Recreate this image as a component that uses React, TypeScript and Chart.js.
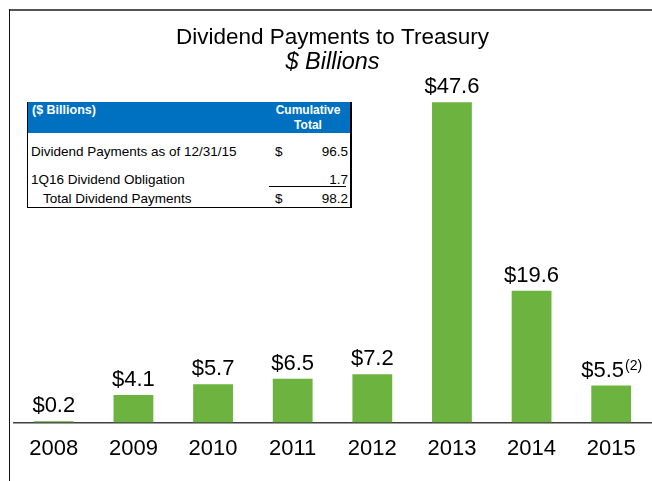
import React, { useEffect, useRef } from "react";
import { Chart, registerables } from "chart.js";

Chart.register(...registerables);

const years = ["2008", "2009", "2010", "2011", "2012", "2013", "2014", "2015"];
const payments = [0.2, 4.1, 5.7, 6.5, 7.2, 47.6, 19.6, 5.5];
const paymentNotes = ["", "", "", "", "", "", "", "(2)"];

const chartTitle = "Dividend Payments to Treasury";
const chartSubtitle = "$ Billions";

const tableHeaderLeft = "($ Billions)";
const tableHeaderRight = ["Cumulative", "Total"];
const tableRowLabels = ["Dividend Payments as of 12/31/15", "1Q16 Dividend Obligation", "Total Dividend Payments"];
const tableRowDollar = ["$", "", "$"];
const tableRowValues = ["96.5", "1.7", "98.2"];

const FONT = "'Liberation Sans', Arial, sans-serif";
const GREEN = "#6db33f";
const BLUE = "#0070c0";

const valueLabelPlugin = {
  id: "valueLabels",
  afterDatasetsDraw(chart: any) {
    const ctx = chart.ctx;
    const meta = chart.getDatasetMeta(0);
    ctx.save();
    meta.data.forEach((bar: any, i: number) => {
      const main = "$" + payments[i].toFixed(1);
      const note = paymentNotes[i];
      ctx.font = `22px ${FONT}`;
      const wMain = ctx.measureText(main).width;
      ctx.font = `14px ${FONT}`;
      const wNote = note ? ctx.measureText(note).width : 0;
      const total = wMain + wNote;
      const x0 = bar.x - total / 2;
      const y = bar.y - 9;
      ctx.fillStyle = "#000";
      ctx.textAlign = "left";
      ctx.textBaseline = "alphabetic";
      ctx.font = `22px ${FONT}`;
      ctx.fillText(main, x0, y);
      if (note) {
        ctx.font = `14px ${FONT}`;
        ctx.fillText(note, x0 + wMain + 1, y - 7);
      }
    });
    ctx.restore();
  },
};

function App() {
  const canvasRef = useRef<HTMLCanvasElement | null>(null);

  useEffect(() => {
    const canvas = canvasRef.current;
    if (!canvas) return;
    const chart = new Chart(canvas, {
      type: "bar",
      data: {
        labels: years,
        datasets: [
          {
            data: payments,
            backgroundColor: GREEN,
            borderWidth: 0,
            barPercentage: 0.5,
            categoryPercentage: 1,
          },
        ],
      },
      options: {
        responsive: false,
        animation: false,
        layout: { padding: { left: 14, right: 1, top: 0, bottom: 6 } },
        plugins: {
          legend: { display: false },
          tooltip: { enabled: false },
          title: {
            display: true,
            text: chartTitle,
            color: "#000",
            font: { family: FONT, size: 22.5, weight: "normal", lineHeight: 1 },
            padding: { top: 27, bottom: 0 },
          },
          subtitle: {
            display: true,
            text: chartSubtitle,
            color: "#000",
            font: { family: FONT, size: 23.5, style: "italic", weight: "normal", lineHeight: 1 },
            padding: { top: 1, bottom: 12 },
          },
        },
        scales: {
          x: {
            grid: { display: false, drawTicks: false },
            border: { display: true, color: "#404040", width: 1.5 },
            ticks: {
              color: "#000",
              padding: 13,
              font: { family: FONT, size: 22 },
            },
          },
          y: {
            display: false,
            min: 0,
            max: 50,
          },
        },
      },
      plugins: [valueLabelPlugin],
    });
    return () => chart.destroy();
  }, []);

  const rowStyle = (top: number): React.CSSProperties => ({
    position: "absolute",
    top,
    left: 0,
    width: "100%",
    height: 18,
    fontSize: 13.5,
    lineHeight: "18px",
    color: "#000",
  });

  return (
    <div
      style={{
        position: "absolute",
        left: 0,
        top: 0,
        width: 652,
        height: 481,
        background: "#fff",
        overflow: "hidden",
        fontFamily: FONT,
      }}
    >
      <canvas ref={canvasRef} width={652} height={481} style={{ position: "absolute", left: 0, top: 0 }} />
      <div style={{ position: "absolute", left: 9, top: 9, width: 643, height: 2, background: "#555" }} />
      <div style={{ position: "absolute", left: 9, top: 9, width: 1, height: 472, background: "#111" }} />

      <div
        style={{
          position: "absolute",
          left: 27,
          top: 102,
          width: 325,
          height: 106,
          borderLeft: "1px solid #000",
          borderRight: "2px solid #000",
          borderBottom: "1px solid #000",
          boxSizing: "border-box",
          background: "#fff",
        }}
      >
        <div style={{ position: "absolute", left: 0, top: 0, right: 0, height: 31, background: BLUE }} />
        <div
          style={{
            position: "absolute",
            left: 4,
            top: 2,
            color: "#fff",
            fontWeight: "bold",
            fontSize: 12.5,
            lineHeight: "13px",
          }}
        >
          {tableHeaderLeft}
        </div>
        <div
          style={{
            position: "absolute",
            left: 238,
            width: 84,
            top: 1,
            color: "#fff",
            fontWeight: "bold",
            fontSize: 12,
            lineHeight: "15px",
            textAlign: "center",
          }}
        >
          {tableHeaderRight.map((t, i) => (
            <div key={i}>{t}</div>
          ))}
        </div>
        {tableRowLabels.map((label, i) => {
          const tops = [41, 69, 88];
          return (
            <div key={i} style={rowStyle(tops[i])}>
              <span style={{ position: "absolute", left: 3 + (i === 2 ? 12 : 0) }}>{label}</span>
              <span style={{ position: "absolute", left: 247 }}>{tableRowDollar[i]}</span>
              <span style={{ position: "absolute", right: 2 }}>{tableRowValues[i]}</span>
            </div>
          );
        })}
        <div style={{ position: "absolute", left: 241, top: 84, width: 77, height: 1, background: "#000" }} />
      </div>
    </div>
  );
}

export default App;
